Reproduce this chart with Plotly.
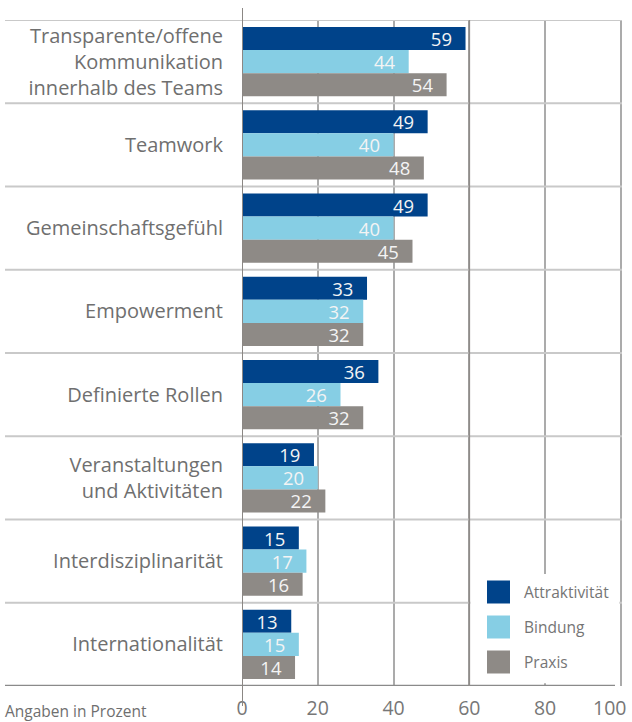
import plotly.graph_objects as go

categories = [
    "Transparente/offene<br>Kommunikation<br>innerhalb des Teams",
    "Teamwork",
    "Gemeinschaftsgefühl",
    "Empowerment",
    "Definierte Rollen",
    "Veranstaltungen<br>und Aktivitäten",
    "Interdisziplinarität",
    "Internationalität",
]
attraktivitaet = [59, 49, 49, 33, 36, 19, 15, 13]
bindung = [44, 40, 40, 32, 26, 20, 17, 15]
praxis = [54, 48, 45, 32, 32, 22, 16, 14]

series_names = ["Attraktivität", "Bindung", "Praxis"]
series_values = [attraktivitaet, bindung, praxis]
series_colors = ["#00438A", "#86CEE4", "#8E8A86"]

tick_vals = [0, 20, 40, 60, 80, 100]
tick_text = ["0", "20", "40", "60", "80", "100\u2007\u2007"]

W, H = 632, 722
L, R, T, B = 242, 10, 20, 36
pw, ph = W - L - R, H - T - B


def px_x(p):
    return (p - L) / pw


def px_y(p):
    return (H - B - p) / ph


FONT = "Open Sans"

fig = go.Figure()
for name, vals, col in zip(series_names, series_values, series_colors):
    fig.add_trace(go.Bar(
        y=categories, x=vals, name=name, orientation="h",
        marker=dict(color=col, line=dict(width=0)),
        texttemplate="%{x}\u2007", textposition="inside",
        insidetextanchor="end",
        textfont=dict(family=FONT, size=18.5, color="#f4f4f4"),
        showlegend=False,
    ))

shapes = []
# category separators
for i in range(len(categories)):
    shapes.append(dict(type="line", xref="paper", yref="y",
                       x0=px_x(5), x1=1.0, y0=i - 0.5, y1=i - 0.5,
                       line=dict(color="#c9c9c9", width=2), layer="above"))
# bottom line
shapes.append(dict(type="line", xref="paper", yref="y",
                   x0=px_x(5), x1=px_x(615), y0=len(categories) - 0.5,
                   y1=len(categories) - 0.5,
                   line=dict(color="#8a8a8a", width=2.5), layer="above"))
# legend box (white) with darker left border at 60
shapes.append(dict(type="rect", xref="x", yref="paper",
                   x0=60.3, x1=99.6, y0=0.004, y1=px_y(574),
                   fillcolor="white", line=dict(width=0), layer="above"))
shapes.append(dict(type="line", xref="x", yref="paper",
                   x0=60, x1=60, y0=0, y1=1,
                   line=dict(color="#8f8c89", width=1.6), layer="above"))
# zero line
shapes.append(dict(type="line", xref="x", yref="paper",
                   x0=0, x1=0, y0=px_y(706), y1=px_y(8),
                   line=dict(color="#8b8784", width=2), layer="above"))

annotations = []
for k, (name, col) in enumerate(zip(series_names, series_colors)):
    cy = 592 + 35 * k
    shapes.append(dict(type="rect", xref="paper", yref="paper",
                       x0=px_x(487), x1=px_x(510),
                       y0=px_y(cy + 11.5), y1=px_y(cy - 11.5),
                       fillcolor=col, line=dict(width=0), layer="above"))
    annotations.append(dict(xref="paper", yref="paper", x=px_x(522), y=px_y(cy),
                            xanchor="left", yanchor="middle", showarrow=False,
                            text=name, font=dict(family=FONT, size=15.5, color="#757575")))

annotations.append(dict(xref="paper", yref="paper", x=px_x(3), y=px_y(711),
                        xanchor="left", yanchor="middle", showarrow=False,
                        text="Angaben in Prozent",
                        font=dict(family=FONT, size=15.5, color="#6f6f6f")))

fig.update_layout(
    width=W, height=H,
    margin=dict(l=L, r=R, t=T, b=B, autoexpand=False),
    paper_bgcolor="white", plot_bgcolor="white",
    barmode="group", bargap=0.17, bargroupgap=0,
    font=dict(family=FONT, color="#6f6f6f"),
    uniformtext=dict(minsize=18.5, mode="show"),
    shapes=shapes, annotations=annotations,
    showlegend=False,
)
fig.update_xaxes(range=[0, 100.3], tickvals=tick_vals, ticktext=tick_text,
                 showgrid=True, gridcolor="#ababab", gridwidth=1.6,
                 zeroline=False, showline=False, ticks="",
                 ticklabelstandoff=8, ticklabeloverflow="allow",
                 tickfont=dict(family=FONT, size=19.5, color="#777777"))
fig.update_yaxes(range=[len(categories) - 0.5, -0.5], showgrid=False,
                 zeroline=False, showline=False, ticks="",
                 ticklabelstandoff=18,
                 tickfont=dict(family=FONT, size=20, color="#6f6f6f"))

fig.write_html("out.html", config={"displayModeBar": False},
               post_script="document.body.style.margin='0';")
